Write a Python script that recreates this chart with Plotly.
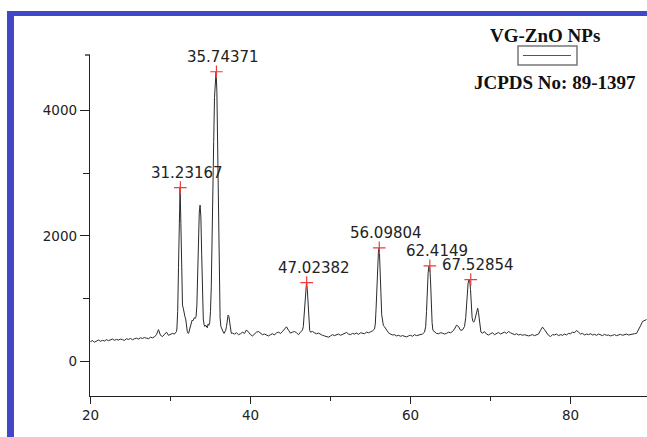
import plotly.graph_objects as go

# ---- data ----
two_theta = [
    20.00, 20.25, 20.50, 20.75, 21.00, 21.25, 21.50, 21.75, 22.00, 22.25, 22.50, 22.75,
    23.00, 23.25, 23.50, 23.75, 24.00, 24.25, 24.50, 24.75, 25.00, 25.25, 25.50, 25.75,
    26.00, 26.25, 26.50, 26.75, 27.00, 27.25, 27.50, 27.75, 28.00, 28.25, 28.50, 28.75,
    29.00, 29.25, 29.50, 29.75, 30.00, 30.25, 30.50, 30.75,
    30.80, 30.90, 31.00, 31.10, 31.20, 31.30, 31.40, 31.50, 31.60, 31.70, 31.80, 31.90,
    32.00, 32.10, 32.20, 32.30, 32.40, 32.50, 32.60, 32.70, 32.80, 32.90, 33.00, 33.10,
    33.20, 33.30, 33.40, 33.50, 33.60, 33.70, 33.80, 33.90, 34.00, 34.10, 34.20, 34.30,
    34.40, 34.50, 34.60, 34.70, 34.80, 34.90, 35.00, 35.10, 35.20, 35.30, 35.40, 35.50,
    35.60, 35.70, 35.80, 35.90, 36.00, 36.10, 36.20, 36.30, 36.40, 36.50, 36.60, 36.70,
    36.80, 36.90, 37.00, 37.10, 37.20, 37.30, 37.40, 37.50, 37.60, 37.75,
    38.00, 38.25, 38.50, 38.75, 39.00, 39.25, 39.50, 39.75, 40.00, 40.25, 40.50, 40.75,
    41.00, 41.25, 41.50, 41.75, 42.00, 42.25, 42.50, 42.75, 43.00, 43.25, 43.50, 43.75,
    44.00, 44.25, 44.50, 44.75, 45.00, 45.25, 45.50, 45.75, 46.00, 46.25, 46.50,
    46.60, 46.70, 46.80, 46.90, 47.00, 47.10, 47.20, 47.30, 47.40, 47.50, 47.75,
    48.00, 48.25, 48.50, 48.75, 49.00, 49.25, 49.50, 49.75, 50.00, 50.25, 50.50, 50.75,
    51.00, 51.25, 51.50, 51.75, 52.00, 52.25, 52.50, 52.75, 53.00, 53.25, 53.50, 53.75,
    54.00, 54.25, 54.50, 54.75, 55.00, 55.25, 55.50,
    55.60, 55.70, 55.80, 55.90, 56.00, 56.10, 56.20, 56.30, 56.40, 56.50, 56.60, 56.75,
    57.00, 57.25, 57.50, 57.75, 58.00, 58.25, 58.50, 58.75, 59.00, 59.25, 59.50, 59.75,
    60.00, 60.25, 60.50, 60.75, 61.00, 61.25, 61.50, 61.75,
    61.90, 62.00, 62.10, 62.20, 62.30, 62.40, 62.50, 62.60, 62.70, 62.80,
    63.00, 63.25, 63.50, 63.75, 64.00, 64.25, 64.50, 64.75, 65.00, 65.25, 65.50, 65.75,
    66.00, 66.25, 66.50, 66.75,
    66.90, 67.00, 67.10, 67.20, 67.30, 67.40, 67.50, 67.60, 67.70, 67.80, 67.90, 68.00,
    68.10, 68.20, 68.30, 68.40, 68.50, 68.60, 68.70, 68.80,
    69.00, 69.25, 69.50, 69.75, 70.00, 70.25, 70.50, 70.75, 71.00, 71.25, 71.50, 71.75,
    72.00, 72.25, 72.50, 72.75, 73.00, 73.25, 73.50, 73.75, 74.00, 74.25, 74.50, 74.75,
    75.00, 75.25, 75.50, 75.75, 76.00, 76.25, 76.50, 76.75, 77.00, 77.25, 77.50, 77.75,
    78.00, 78.25, 78.50, 78.75, 79.00, 79.25, 79.50, 79.75, 80.00, 80.25, 80.50, 80.75,
    81.00, 81.25, 81.50, 81.75, 82.00, 82.25, 82.50, 82.75, 83.00, 83.25, 83.50, 83.75,
    84.00, 84.25, 84.50, 84.75, 85.00, 85.25, 85.50, 85.75, 86.00, 86.25, 86.50, 86.75,
    87.00, 87.25, 87.50, 87.75, 88.00, 88.25, 88.50, 88.75, 89.00, 89.25, 89.50,
]
intensity = [
    320, 335, 310, 330, 345, 325, 340, 330, 350, 335, 345, 360,
    340, 355, 345, 360, 350, 340, 365, 355, 370, 350, 365, 375,
    360, 380, 370, 385, 375, 365, 390, 380, 395, 430, 510, 420,
    400, 440, 470, 420, 430, 450, 440, 480,
    520, 800, 1500, 2400, 2770, 2200, 1300, 900, 850, 760, 720, 680,
    560, 480, 450, 460, 520, 580, 620, 660, 650, 680, 700, 690,
    720, 900, 1400, 2000, 2380, 2490, 2300, 1700, 1000, 680, 590, 560,
    580, 560, 540, 600, 580, 620, 800, 1200, 1800, 2600, 3500, 4200,
    4550, 4610, 4300, 3400, 2200, 1200, 700, 560, 520, 480, 470, 450,
    470, 500, 560, 650, 740, 720, 600, 480, 450, 455,
    440, 460, 430, 445, 470, 450, 505, 470, 430, 410, 440, 470,
    480, 450, 430, 440, 420, 410, 430, 445, 425, 460, 470, 450,
    480, 520, 555, 500, 455, 470, 480, 460, 430, 470, 505,
    560, 750, 1000, 1200, 1258, 1150, 900, 620, 500, 470, 480,
    460, 445, 455, 430, 420, 410, 395, 390, 410, 430, 415, 425,
    440, 420, 435, 450, 465, 440, 430, 450, 440, 455, 435, 460,
    450, 445, 470, 460, 475, 490, 520,
    600, 850, 1250, 1600, 1780, 1810, 1550, 1100, 750, 620, 580, 555,
    500, 460, 440, 425, 430, 410, 420, 405, 415, 400, 395, 410,
    420, 405, 430, 415, 420, 430, 440, 470,
    560, 800, 1150, 1400, 1520, 1525, 1300, 900, 620, 500,
    470, 450, 445, 460, 455, 440, 450, 470, 460, 480, 520, 580,
    560, 500, 505, 560,
    700, 900, 1100, 1250, 1300, 1290, 1150, 900, 700, 640, 630, 650,
    700, 780, 840, 850, 780, 650, 520, 470,
    455, 478, 440, 425, 445, 460, 430, 450, 465, 440, 455, 470,
    450, 480, 460, 440, 430, 445, 425, 435, 420, 430, 415, 410,
    420, 430, 415, 425, 440, 500, 550, 510, 470, 420, 400, 430,
    425, 440, 415, 430, 420, 440, 425, 450, 445, 470, 460, 495,
    470, 440, 450, 425, 440, 430, 445, 425, 435, 420, 440, 430,
    415, 435, 420, 425, 410, 420, 430, 415, 425, 435, 420, 430,
    440, 425, 435, 440, 445, 450, 500, 570, 640, 660, 670,
]

peak_x = [31.23167, 35.74371, 47.02382, 56.09804, 62.4149, 67.52854]
peak_y = [2768, 4610, 1258, 1810, 1525, 1305]
peak_labels = ["31.23167", "35.74371", "47.02382", "56.09804", "62.4149", "67.52854"]

x_ticks = [20, 40, 60, 80]
y_ticks = [0, 2000, 4000]

legend_title = "VG-ZnO NPs"
legend_note = "JCPDS No: 89-1397"

# ---- layout geometry (pixels) ----
W, H = 647, 437
ML, MR, MT, MB = 90, 0, 55, 41
PW = W - ML - MR
PH = H - MT - MB


def px(xp):
    return (xp - ML) / PW


def py(yp):
    return (H - MB - yp) / PH


fig = go.Figure()
fig.add_trace(go.Scatter(
    x=two_theta, y=intensity, mode="lines",
    line=dict(color="#2a2a2a", width=1), showlegend=False, hoverinfo="skip",
))
fig.add_trace(go.Scatter(
    x=peak_x, y=peak_y, mode="markers",
    marker=dict(symbol="cross-thin", size=9, line=dict(color="#ee3b3b", width=1.2)),
    showlegend=False,
))

annotations = []
for xv, yv, lab in zip(peak_x, peak_y, peak_labels):
    annotations.append(dict(
        x=xv, y=yv, xref="x", yref="y", text=lab, showarrow=False,
        xanchor="center", yanchor="middle", xshift=7, yshift=15,
        font=dict(family="DejaVu Sans", size=15, color="#222"),
    ))

annotations.append(dict(
    x=px(545), y=py(35), xref="paper", yref="paper", text="<b>%s</b>" % legend_title,
    showarrow=False, xanchor="center", yanchor="middle",
    font=dict(family="Liberation Serif", size=19, color="#111"),
))
annotations.append(dict(
    x=px(555), y=py(82), xref="paper", yref="paper", text="<b>%s</b>" % legend_note,
    showarrow=False, xanchor="center", yanchor="middle",
    font=dict(family="Liberation Serif", size=19, color="#111"),
))

border = "rgb(65,72,200)"
shapes = [
    # blue frame (left & top)
    dict(type="rect", xref="paper", yref="paper", x0=px(7), x1=px(14), y0=py(437), y1=py(11),
         fillcolor=border, line=dict(width=0), layer="above"),
    dict(type="rect", xref="paper", yref="paper", x0=px(7), x1=px(647), y0=py(16), y1=py(11),
         fillcolor=border, line=dict(width=0), layer="above"),
    # legend sample box + line
    dict(type="rect", xref="paper", yref="paper", x0=px(518), x1=px(577), y0=py(65), y1=py(46),
         line=dict(color="#777", width=1.5), fillcolor="white"),
    dict(type="line", xref="paper", yref="paper", x0=px(523), x1=px(571), y0=py(55.5), y1=py(55.5),
         line=dict(color="#555", width=1)),
    # small cap at top of y axis
    dict(type="line", xref="paper", yref="paper", x0=px(85), x1=px(90), y0=py(55), y1=py(55),
         line=dict(color="#222", width=1.3)),
]

fig.update_layout(
    width=W, height=H,
    margin=dict(l=ML, r=MR, t=MT, b=MB, pad=0),
    paper_bgcolor="white", plot_bgcolor="white",
    annotations=annotations, shapes=shapes,
    showlegend=False,
)
fig.update_xaxes(
    range=[19.94, 89.56], tickvals=x_ticks, ticktext=[str(v) for v in x_ticks],
    showgrid=False, zeroline=False, showline=True, linecolor="#222", linewidth=1.3,
    ticks="outside", ticklen=7, tickwidth=1.3, tickcolor="#222",
    tickfont=dict(family="DejaVu Sans", size=13.5, color="#222"),
    minor=dict(ticks="outside", ticklen=4, tickwidth=1.3, tickcolor="#222", tickvals=[30, 50, 70, 90]),
)
fig.update_yaxes(
    range=[-545, 4876], tickvals=y_ticks, ticktext=[str(v) for v in y_ticks],
    showgrid=False, zeroline=False, showline=True, linecolor="#222", linewidth=1.3,
    ticks="outside", ticklen=9, tickwidth=1.3, tickcolor="#222",
    tickfont=dict(family="DejaVu Sans", size=13.5, color="#222"),
    minor=dict(ticks="outside", ticklen=6, tickwidth=1.3, tickcolor="#222", tickvals=[1000, 3000]),
)

fig.write_html("out.html")
